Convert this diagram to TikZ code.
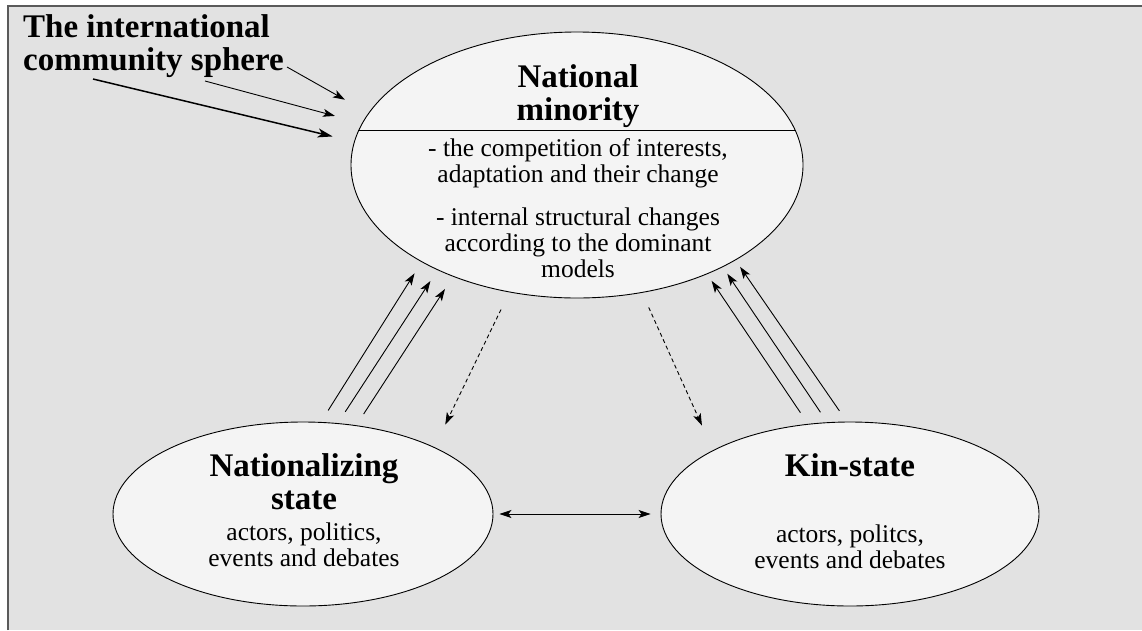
\documentclass[tikz,border=0pt]{standalone}
\usepackage{fontspec}
\setmainfont{Liberation Serif}
\usepackage{tikz}
\usetikzlibrary{arrows.meta,shapes.geometric}
\definecolor{bggray}{HTML}{E2E2E2}
\definecolor{blobfill}{HTML}{F4F4F4}
\definecolor{framegray}{HTML}{5A5A5A}

\begin{document}
\begin{tikzpicture}[x=1pt,y=-1pt,
  >={Stealth[length=12pt,width=8pt,inset=3pt]},
  blob/.style={draw=black,line width=0.9pt,fill=blobfill,ellipse,inner sep=0pt},
  head/.style={font=\fontsize{33}{33}\selectfont\bfseries,align=center,inner sep=0pt},
  body/.style={font=\fontsize{25.5}{26}\selectfont,align=center,inner sep=0pt},
  link/.style={->,line width=0.9pt},
  hint/.style={link,dash pattern=on 4pt off 3pt}]
\useasboundingbox (0,0) rectangle (1142,630);
\fill[white] (0,0) rectangle (1142,630);
\fill[bggray] (8,6) rectangle (1142,630);
\draw[framegray,line width=1.5pt] (8,630) -- (8,6) -- (1142,6);

% the three spheres
\node[blob,minimum width=452pt,minimum height=266pt] (nm) at (577,165) {};
\node[blob,minimum width=380pt,minimum height=184pt] (ns) at (303,514) {};
\node[blob,minimum width=378pt,minimum height=184pt] (ks) at (850,514) {};
\draw[line width=0.9pt] (nm.171) -- (nm.9);

\node[head,anchor=north] (nmhead) at (578,64.7) {National\\minority};
\node[body,anchor=north] (nmbody) at (578,138.6) {- the competition of interests,\\adaptation and their change\\[17pt]- internal structural changes\\according to the dominant\\models};
\node[head,anchor=north] (nshead) at (304,453.7) {Nationalizing\\state};
\node[body,anchor=north] (nsbody) at (304,522.5) {actors, politics,\\events and debates};
\node[head,anchor=north] (kshead) at (850,453.7) {Kin-state};
\node[body,anchor=north] (ksbody) at (850,524.5) {actors, politcs,\\events and debates};

% international sphere
\node[head,align=left,anchor=north west] (intl) at (23,14.7) {The international\\community sphere};
\coordinate (t1) at (287,67);
\coordinate (t2) at (205,81);
\coordinate (t3) at (93,79);
\draw[link,shorten >=27pt] (t1) -- (nm.166);
\draw[link,shorten >=28pt] (t2) -- (nm.169);
\draw[link,line width=1.5pt,>={Stealth[length=15pt,width=9pt,inset=4pt]},shorten >=22pt] (t3) -- (nm.174);

% influences on the minority
\draw[link,shorten <=13.6pt,shorten >=13.3pt] (ns.79) -- (nm.212);
\draw[link,shorten <=13.5pt,shorten >=13pt] (ns.69) -- (nm.217);
\draw[link,shorten <=13.4pt,shorten >=14.7pt] (ns.59) -- (nm.222);
\draw[link,shorten <=13.5pt,shorten >=8pt] (ks.115) -- (nm.320);
\draw[link,shorten <=12pt,shorten >=8pt] (ks.104) -- (nm.325);
\draw[link,shorten <=13pt,shorten >=8pt] (ks.92) -- (nm.329);

% feedback
\draw[hint,shorten <=19pt,shorten >=25pt] (nm.242) -- (ns.27);
\draw[hint,shorten <=16pt,shorten >=27pt] (nm.297) -- (ks.155);
\draw[link,<->,shorten <=6pt,shorten >=10pt] (ns.east) -- (ks.west);
\end{tikzpicture}
\end{document}
